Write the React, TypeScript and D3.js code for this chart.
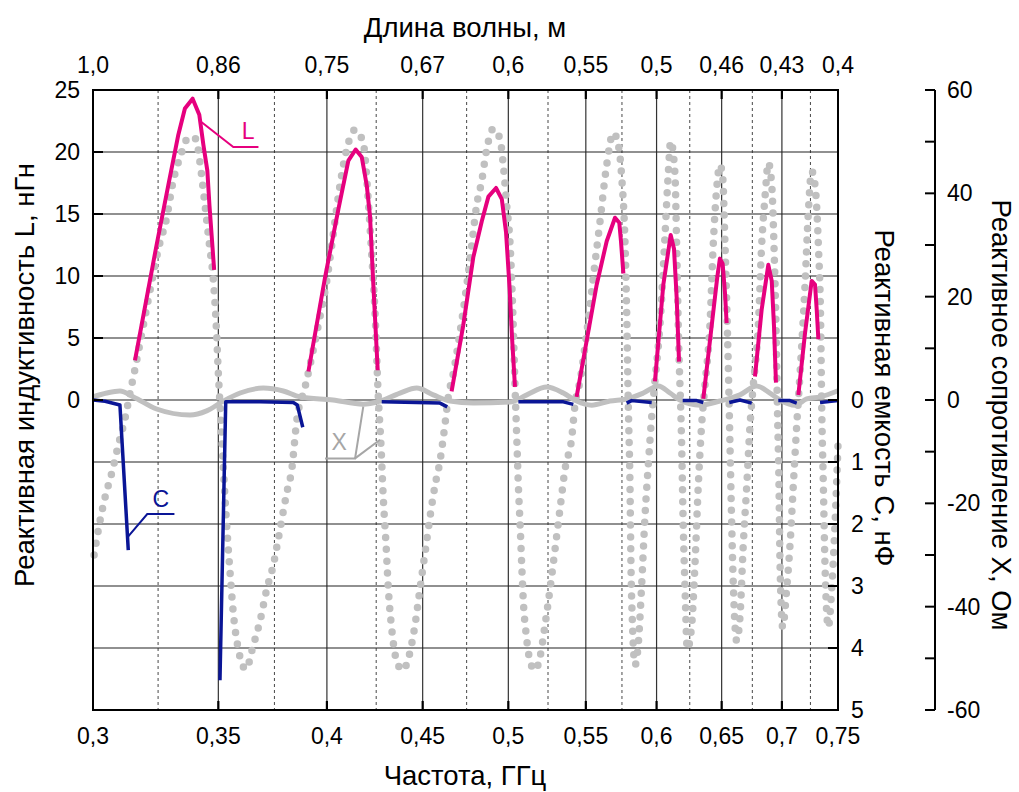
import React from "react";
import * as d3 from "d3";

// ---------- data ----------
const freqMajor = [0.3, 0.35, 0.4, 0.45, 0.5, 0.55, 0.6, 0.65, 0.7, 0.75];
const freqLabels = ["0,3", "0,35", "0,4", "0,45", "0,5", "0,55", "0,6", "0,65", "0,7", "0,75"];
const freqMinor = [0.325, 0.375, 0.425, 0.475, 0.525, 0.575, 0.625, 0.675, 0.725];
const waveLabels = ["1,0", "0,86", "0,75", "0,67", "0,6", "0,55", "0,5", "0,46", "0,43", "0,4"];
const lTicks = [0, 5, 10, 15, 20, 25];
const lGrid = [5, 10, 15, 20];
const cTicks = [0, 1, 2, 3, 4, 5];
const cGrid = [1, 2, 3, 4];
const xTicksMajor = [-60, -40, -20, 0, 20, 40, 60];
const xTicksMinor = [-50, -30, -10, 10, 30, 50];

// Inductance L (nH) segments: [frequency GHz, L]
const inductanceL: [number, number][][] = [
  [[0.3159, 3.2], [0.3244, 12.5], [0.3291, 17.3], [0.3332, 21.4], [0.3359, 23.5], [0.3391, 24.3], [0.3419, 23.0], [0.3436, 20.6], [0.3453, 18.5], [0.3462, 15.7], [0.3482, 10.5]],
  [[0.391, 2.3], [0.3991, 9.9], [0.4057, 15.4], [0.4107, 19.3], [0.4144, 20.2], [0.4175, 19.6], [0.4201, 17.3], [0.4218, 14.8], [0.4235, 9.3], [0.4258, 2.4]],
  [[0.4663, 0.7], [0.473, 6.0], [0.4789, 11.5], [0.4839, 14.4], [0.4879, 16.4], [0.4925, 17.1], [0.496, 16.2], [0.4986, 13.5], [0.5008, 9.0], [0.5023, 5.0], [0.5041, 1.05]],
  [[0.5438, 0.25], [0.5506, 4.8], [0.5574, 9.3], [0.5643, 12.8], [0.5701, 14.7], [0.5731, 14.3], [0.5743, 12.8], [0.576, 10.2]],
  [[0.5988, 1.5], [0.605, 9.3], [0.6105, 13.3], [0.613, 12.2], [0.615, 8.3], [0.6168, 3.1]],
  [[0.6355, 0.1], [0.6421, 6.0], [0.6465, 9.9], [0.6486, 11.4], [0.6508, 11.0], [0.6527, 8.6], [0.654, 6.2]],
  [[0.6772, 1.9], [0.6828, 7.3], [0.6884, 10.9], [0.6913, 9.6], [0.6932, 6.0], [0.6949, 1.4]],
  [[0.7143, 0.4], [0.7202, 5.4], [0.7261, 9.6], [0.7291, 9.3], [0.7306, 7.3], [0.7321, 4.9]],
];

// Capacitance C (nF) segments
const capacitanceC: [number, number][][] = [
  [[0.3, 0.0], [0.3045, 0.02], [0.3101, 0.08], [0.3133, 2.42]],
  [[0.3507, 4.52], [0.3532, 0.03], [0.3684, 0.03], [0.3838, 0.04], [0.3857, 0.08], [0.3883, 0.44]],
  [[0.4279, 0.03], [0.4597, 0.05], [0.4638, 0.11]],
  [[0.5062, 0.03], [0.535, 0.03], [0.5416, 0.07]],
  [[0.5783, 0.05], [0.5819, 0.01], [0.5964, 0.04]],
  [[0.6196, 0.01], [0.6303, 0.01], [0.6355, 0.04]],
  [[0.6561, 0.04], [0.6648, 0.0], [0.6745, 0.05]],
  [[0.6969, 0.01], [0.707, 0.01], [0.7129, 0.05]],
  [[0.7336, 0.04], [0.75, 0.01]],
];

// Reactance X (Ohm), dotted curve
const reactanceX: [number, number][] = [
  [0.3004, -30.0], [0.3026, -23.4], [0.3045, -18.8], [0.307, -14.1], [0.3095, -8.7], [0.312, -3.7], [0.314, 1.4], [0.3159, 6.0], [0.3192, 14.5], [0.3225, 23.0], [0.3251, 29.2], [0.3285, 35.4], [0.3311, 42.4], [0.3339, 47.0], [0.3376, 50.9], [0.3405, 50.5], [0.3422, 45.9], [0.3443, 37.7], [0.3462, 30.0], [0.3479, 23.0], [0.349, 15.3], [0.35, 5.2], [0.3512, -4.8], [0.3522, -13.4], [0.3536, -24.2], [0.3551, -33.5], [0.3565, -41.2], [0.3587, -48.2], [0.3621, -52.1], [0.3654, -47.4], [0.3684, -42.8], [0.3715, -36.6], [0.3745, -31.9], [0.3776, -25.0], [0.3807, -18.0], [0.3831, -13.4], [0.3854, -4.1],
  [0.3894, 2.5], [0.3918, 6.8], [0.3966, 16.1], [0.3999, 23.0], [0.4032, 32.3], [0.4065, 41.6], [0.4099, 48.6], [0.4141, 52.3], [0.4183, 49.7], [0.4209, 38.5], [0.4226, 28.5], [0.4244, 16.8], [0.4261, 0.6], [0.4274, -7.9], [0.4287, -18.8], [0.4302, -28.1], [0.4314, -36.6], [0.4332, -44.3], [0.4358, -50.5], [0.4391, -52.3], [0.4421, -50.1], [0.4458, -43.5], [0.4485, -36.6], [0.4513, -29.6], [0.4541, -22.6], [0.4569, -16.5], [0.4597, -11.8], [0.4625, -4.8], [0.4644, 0.6],
  [0.4673, 5.2], [0.4711, 13.0], [0.4751, 22.3], [0.478, 30.0], [0.4809, 37.7], [0.4839, 42.4], [0.4869, 48.6], [0.4909, 52.5], [0.4949, 50.5], [0.4969, 45.5], [0.499, 37.7], [0.5011, 30.0], [0.5027, 17.6], [0.5041, 2.9], [0.5052, -7.2], [0.5062, -16.5], [0.5073, -24.2], [0.5083, -31.9], [0.5093, -38.9], [0.511, -45.1], [0.5135, -50.5], [0.5167, -52.3], [0.5199, -49.7], [0.5231, -43.5], [0.5263, -36.6], [0.5296, -28.8], [0.5328, -21.1], [0.5361, -13.4], [0.5406, -7.2], [0.5427, -1.0],
  [0.5461, 3.7], [0.5506, 13.0], [0.5551, 23.8], [0.5597, 34.6], [0.5643, 45.5], [0.5689, 51.7], [0.5724, 49.4], [0.5748, 43.2], [0.5772, 30.0], [0.5783, 17.6], [0.5795, -1.0], [0.5807, -16.5], [0.5814, -31.9], [0.5826, -44.3], [0.5843, -51.3], [0.5866, -47.4], [0.5891, -35.8], [0.5915, -22.6], [0.5939, -12.6], [0.5964, -3.3],
  [0.5988, 3.7], [0.6025, 14.5], [0.6062, 31.5], [0.6087, 43.9], [0.6105, 50.1], [0.6137, 43.9], [0.615, 30.0], [0.6162, 14.5], [0.6188, -8.7], [0.62, -24.2], [0.6213, -35.8], [0.6231, -48.2], [0.6265, -43.5], [0.629, -31.9], [0.6316, -16.5], [0.6342, -4.8],
  [0.6368, 2.9], [0.6407, 14.5], [0.6433, 30.0], [0.646, 40.8], [0.6486, 45.5], [0.6508, 43.2], [0.6527, 30.0], [0.6553, 6.8], [0.6567, -8.7], [0.6581, -24.2], [0.6594, -35.8], [0.6621, -46.6], [0.6648, -42.0], [0.6675, -28.1], [0.6704, -16.5], [0.6731, -4.8],
  [0.6758, 2.9], [0.68, 14.5], [0.6828, 30.0], [0.6856, 39.3], [0.6884, 45.9], [0.6913, 41.6], [0.6932, 30.0], [0.6949, 14.5], [0.6961, -1.0], [0.6975, -16.5], [0.6984, -31.9], [0.7007, -44.0], [0.7041, -36.6], [0.707, -28.1], [0.7099, -16.5], [0.7129, -4.8],
  [0.7158, 5.2], [0.7202, 22.3], [0.7231, 36.2], [0.7261, 44.3], [0.7291, 41.6], [0.7321, 30.0], [0.7342, 14.5], [0.7351, -1.0], [0.7366, -16.5], [0.7381, -31.9], [0.7411, -44.0], [0.7442, -36.6], [0.7472, -24.2], [0.75, -8.7],
];

// Small-scale reactance (solid grey curve), Ohm
const reactanceSmall: [number, number][] = [
  [0.3, 0.6], [0.3051, 1.35], [0.3101, 1.74], [0.3153, 0.6], [0.3244, -1.74], [0.338, -2.9], [0.345, -2.1], [0.3522, -0.2], [0.3595, 1.35], [0.3699, 2.3], [0.3791, 1.74], [0.387, 0.6], [0.403, 0.0], [0.4182, -0.8], [0.427, -0.2], [0.4376, 1.35], [0.4467, 2.3], [0.4559, 1.0], [0.4654, -0.2], [0.4788, -0.6], [0.5011, -0.4], [0.5115, 1.0], [0.5242, 2.5], [0.535, 1.35], [0.5438, -0.2], [0.554, -1.0], [0.5666, -0.2], [0.5783, 0.2], [0.5903, 1.35], [0.6013, 2.7], [0.61, 1.35], [0.6175, 0.0], [0.6329, -1.0], [0.6486, -0.2], [0.6648, 1.0], [0.6786, 2.7], [0.6898, 1.35], [0.6984, 0.0], [0.7114, -1.0], [0.7217, 0.2], [0.7336, 0.6], [0.75, 1.8],
];

// annotation leaders (data units)
const leaderL: [number, number][] = [[0.3429, 22.4], [0.3565, 20.4], [0.3677, 20.4]];
const labelL: [number, number] = [0.3602, 21.05];
const leaderC: [number, number][] = [[0.3133, 2.2], [0.3207, 1.84], [0.3316, 1.84]];
const labelC: [number, number] = [0.3261, 1.72];
const leaderX1: [number, number][] = [[0.3991, -11.3], [0.4141, -11.3], [0.4183, -1.3]];
const leaderX2: [number, number][] = [[0.4141, -11.3], [0.427, -7.7]];
const labelX: [number, number] = [0.4061, -9.7];

// ---------- layout ----------
const W = 1019, H = 792;
const left = 93, right = 838, top = 90, bottom = 710;
const font = "'Liberation Sans', Arial, sans-serif";
const pink = "#e6007e";
const blue = "#0a1596";
const grey = "#c0c0c0";
const tickFs = 23;
const titleFs = 27.5;

export default function App() {
  const x = d3.scaleLog().domain([0.3, 0.75]).range([left, right]);
  const yL = d3.scaleLinear().domain([0, 25]).range([400, top]);
  const yC = d3.scaleLinear().domain([0, 5]).range([400, bottom]);
  const yX = d3.scaleLinear().domain([-60, 60]).range([bottom, top]);

  const lineL = d3.line<[number, number]>().x(d => x(d[0])).y(d => yL(d[1]));
  const lineC = d3.line<[number, number]>().x(d => x(d[0])).y(d => yC(d[1]));
  const lineXs = d3.line<[number, number]>().x(d => x(d[0])).y(d => yX(d[1])).curve(d3.curveMonotoneX);
  const lineXl = d3.line<[number, number]>().x(d => x(d[0])).y(d => yX(d[1]));

  const xAxisX = 935;

  return (
    <svg width={W} height={H} style={{ position: "absolute", left: 0, top: 0, background: "#fff" }} fontFamily={font}>
      <rect x={0} y={0} width={W} height={H} fill="#fff" />
      {/* grid */}
      {freqMinor.map(f => (
        <line key={"mn" + f} x1={x(f)} x2={x(f)} y1={top} y2={bottom} stroke="#333" strokeWidth={0.9} strokeDasharray="3,3" />
      ))}
      {freqMajor.slice(1, -1).map(f => (
        <line key={"mj" + f} x1={x(f)} x2={x(f)} y1={top} y2={bottom} stroke="#333" strokeWidth={1.2} />
      ))}
      {lGrid.map(v => (
        <line key={"lg" + v} x1={left} x2={right} y1={yL(v)} y2={yL(v)} stroke="#222" strokeWidth={1.2} />
      ))}
      {cGrid.map(v => (
        <line key={"cg" + v} x1={left} x2={right} y1={yC(v)} y2={yC(v)} stroke="#222" strokeWidth={1.2} />
      ))}
      <line x1={left} x2={right} y1={yL(0)} y2={yL(0)} stroke="#222" strokeWidth={1.2} />

      {/* dotted reactance */}
      <path d={lineXs(reactanceX) || ""} fill="none" stroke={grey} strokeWidth={7.5} strokeLinecap="round" strokeDasharray="0 11.8" />
      {/* small reactance */}
      <path d={lineXs(reactanceSmall) || ""} fill="none" stroke={grey} strokeWidth={5} strokeLinejoin="round" />
      {/* C */}
      {capacitanceC.map((seg, i) => (
        <path key={"c" + i} d={lineC(seg) || ""} fill="none" stroke={blue} strokeWidth={3.5} strokeLinejoin="round" />
      ))}
      {/* L */}
      {inductanceL.map((seg, i) => (
        <path key={"l" + i} d={lineL(seg) || ""} fill="none" stroke={pink} strokeWidth={4} strokeLinejoin="round" />
      ))}

      {/* annotations */}
      <path d={lineL(leaderL) || ""} fill="none" stroke={pink} strokeWidth={2} />
      <text x={x(labelL[0])} y={yL(labelL[1])} fill={pink} fontSize={23}>L</text>
      <path d={lineC(leaderC) || ""} fill="none" stroke={blue} strokeWidth={2} />
      <text x={x(labelC[0])} y={yC(labelC[1])} fill={blue} fontSize={23} textAnchor="middle">C</text>
      <path d={lineXl(leaderX1) || ""} fill="none" stroke="#a6a6a6" strokeWidth={2} />
      <path d={lineXl(leaderX2) || ""} fill="none" stroke="#a6a6a6" strokeWidth={2} />
      <text x={x(labelX[0])} y={yX(labelX[1])} fill="#a6a6a6" fontSize={23} textAnchor="middle">X</text>

      {/* frame */}
      <rect x={left} y={top} width={right - left} height={bottom - top} fill="none" stroke="#000" strokeWidth={2} />

      {/* ticks on frame */}
      {freqMajor.slice(1, -1).map(f => (
        <g key={"ft" + f}>
          <line x1={x(f)} x2={x(f)} y1={top} y2={top + 9} stroke="#000" strokeWidth={2.2} />
          <line x1={x(f)} x2={x(f)} y1={bottom} y2={bottom - 9} stroke="#000" strokeWidth={2.2} />
        </g>
      ))}
      {lTicks.map(v => (
        <line key={"lt" + v} x1={left} x2={left + 10} y1={yL(v)} y2={yL(v)} stroke="#000" strokeWidth={2} />
      ))}
      {cTicks.map(v => (
        <line key={"ct" + v} x1={right} x2={right - 10} y1={yC(v)} y2={yC(v)} stroke="#000" strokeWidth={2} />
      ))}

      {/* tick labels */}
      {freqMajor.map((f, i) => (
        <text key={"fl" + f} x={x(f)} y={736} fontSize={tickFs} textAnchor="middle" dominantBaseline="central">{freqLabels[i]}</text>
      ))}
      {freqMajor.map((f, i) => (
        <text key={"wl" + f} x={x(f)} y={65} fontSize={tickFs} textAnchor="middle" dominantBaseline="central">{waveLabels[i]}</text>
      ))}
      {lTicks.map(v => (
        <text key={"ll" + v} x={80} y={yL(v)} fontSize={tickFs} textAnchor="end" dominantBaseline="central">{v}</text>
      ))}
      {cTicks.map(v => (
        <text key={"cl" + v} x={851} y={yC(v)} fontSize={tickFs} textAnchor="start" dominantBaseline="central">{v}</text>
      ))}

      {/* far-right X axis */}
      <line x1={xAxisX} x2={xAxisX} y1={top} y2={bottom} stroke="#000" strokeWidth={2} />
      {xTicksMajor.concat(xTicksMinor).map(v => (
        <line key={"xt" + v} x1={xAxisX} x2={xAxisX - 10} y1={yX(v)} y2={yX(v)} stroke="#000" strokeWidth={2} />
      ))}
      {xTicksMajor.map(v => (
        <text key={"xl" + v} x={947} y={yX(v)} fontSize={tickFs} textAnchor="start" dominantBaseline="central">{v}</text>
      ))}

      {/* titles */}
      <text x={465} y={27} fontSize={titleFs} textAnchor="middle" dominantBaseline="central">Длина волны, м</text>
      <text x={465} y={775} fontSize={titleFs} textAnchor="middle" dominantBaseline="central">Частота, ГГц</text>
      <text transform="translate(24,375) rotate(-90)" fontSize={titleFs} textAnchor="middle" dominantBaseline="central">Реактивная индуктивность L, нГн</text>
      <text transform="translate(884,398) rotate(90)" fontSize={titleFs} textAnchor="middle" dominantBaseline="central">Реактивная емкость C, нФ</text>
      <text transform="translate(1001,415) rotate(90)" fontSize={titleFs} textAnchor="middle" dominantBaseline="central">Реактивное сопротивление X, Ом</text>
    </svg>
  );
}
